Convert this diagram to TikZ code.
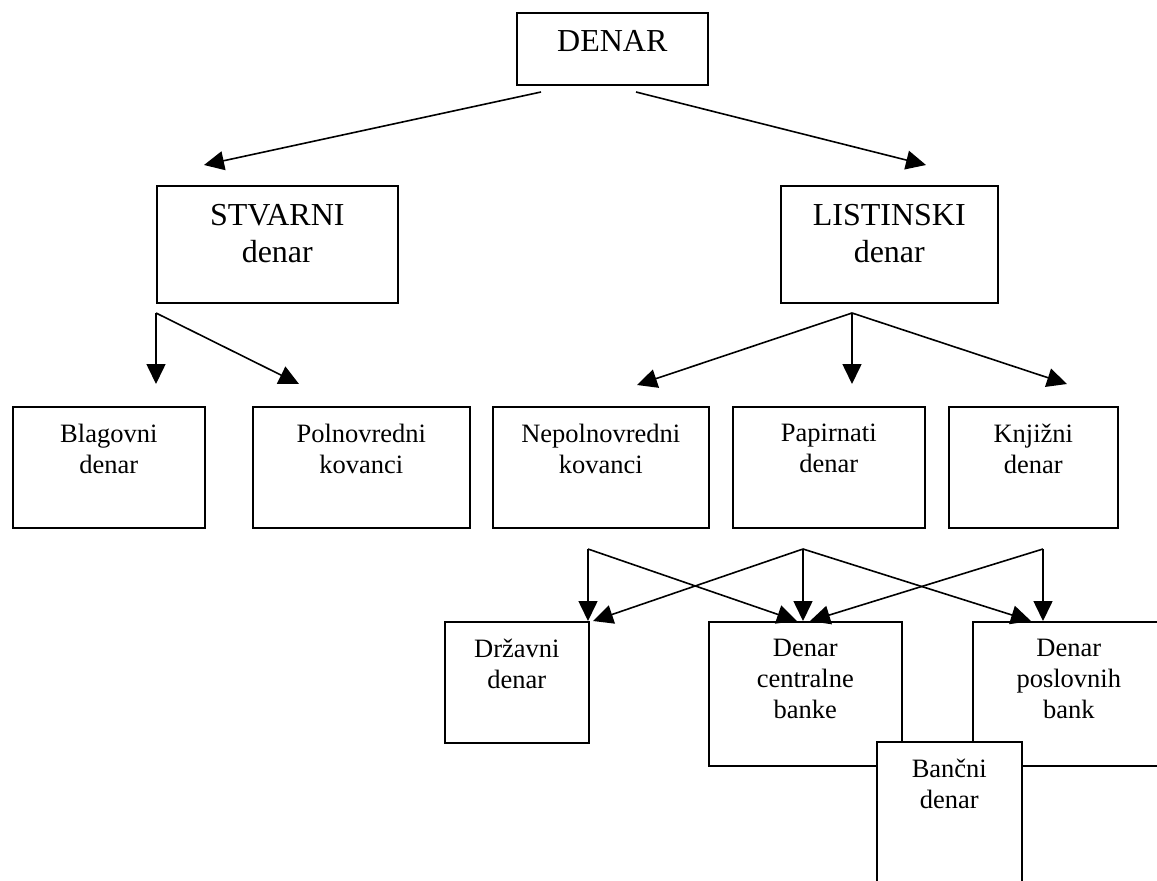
\documentclass[tikz,border=0pt]{standalone}
\usepackage{fontspec}
\setmainfont{Liberation Serif}
\usetikzlibrary{arrows.meta,calc}
\begin{document}
\begin{tikzpicture}[x=1pt,y=-1pt,
  box/.style={draw,line width=1.6pt,fill=white,inner sep=0pt,anchor=north west},
  bigtxt/.style={anchor=north,inner sep=0pt,align=center,font=\fontsize{32}{37}\selectfont},
  smalltxt/.style={anchor=north,inner sep=0pt,align=center,font=\fontsize{26.5}{31}\selectfont},
  conn/.style={line width=1.6pt,-{Triangle[length=20pt,width=19pt]}}]
\useasboundingbox (0,0) rectangle (1157,881);
\clip (0,0) rectangle (1157,881);
% boxes
\node[box,minimum width=191pt,minimum height=72pt] (den) at (516,12) {};
\node[box,minimum width=241pt,minimum height=117pt] (stv) at (156,185) {};
\node[box,minimum width=217pt,minimum height=117pt] (lis) at (780,185) {};
\node[box,minimum width=192pt,minimum height=121pt] (bla) at (12,406) {};
\node[box,minimum width=217pt,minimum height=121pt] (pol) at (252,406) {};
\node[box,minimum width=216pt,minimum height=121pt] (nep) at (492,406) {};
\node[box,minimum width=192pt,minimum height=121pt] (pap) at (732,406) {};
\node[box,minimum width=169pt,minimum height=121pt] (knj) at (948,406) {};
\node[box,minimum width=144pt,minimum height=121pt] (drz) at (444,621) {};
\node[box,minimum width=193pt,minimum height=144pt] (dcb) at (708,621) {};
\node[box,minimum width=192pt,minimum height=144pt] (dpb) at (972,621) {};
\node[box,minimum width=145pt,minimum height=150pt] (ban) at (876,741) {};
% texts
\node[bigtxt] (dent) at ($(den.north)+(0,18)$) {DENAR};
\node[bigtxt] (stvt) at ($(stv.north)+(0,19)$) {STVARNI\\denar};
\node[bigtxt] (list) at ($(lis.north)+(0,19)$) {LISTINSKI\\denar};
\node[smalltxt] (blat) at ($(bla.north)+(0,18)$) {Blagovni\\denar};
\node[smalltxt] (polt) at ($(pol.north)+(0,18)$) {Polnovredni\\kovanci};
\node[smalltxt] (nept) at ($(nep.north)+(0,18)$) {Nepolnovredni\\kovanci};
\node[smalltxt] (papt) at ($(pap.north)+(0,18)$) {Papirnati\\denar};
\node[smalltxt] (knjt) at ($(knj.north)+(0,18)$) {Knjižni\\denar};
\node[smalltxt] (drzt) at ($(drz.north)+(0,18)$) {Državni\\denar};
\node[smalltxt] (dcbt) at ($(dcb.north)+(0,18)$) {Denar\\centralne\\banke};
\node[smalltxt] (dpbt) at ($(dpb.north)+(0,18)$) {Denar\\poslovnih\\bank};
\node[smalltxt] (bant) at ($(ban.north)+(0,18)$) {Bančni\\denar};
% connector points
\coordinate (a0) at (541,92);
\coordinate (a1) at (636,92);
\coordinate (ta) at (204,165);
\coordinate (tb) at (926,165);
\coordinate (s0) at (156,313);
\coordinate (sa) at (156,384);
\coordinate (sb) at (299,384);
\coordinate (l0) at (852,313);
\coordinate (la) at (637,385);
\coordinate (lb) at (852,384);
\coordinate (lc) at (1067,384);
\coordinate (p1) at (588,549);
\coordinate (p2) at (803,549);
\coordinate (p3) at (1043,549);
\coordinate (q1) at (588,621);
\coordinate (q1b) at (593,621);
\coordinate (q2a) at (797,621);
\coordinate (q2) at (803,621);
\coordinate (q2b) at (810,621);
\coordinate (q3a) at (1031,621);
\coordinate (q3) at (1043,621);
% connectors
\draw[conn] (a0) -- (ta);
\draw[conn] (a1) -- (tb);
\draw[conn] (s0) -- (sa);
\draw[conn] (s0) -- (sb);
\draw[conn] (l0) -- (la);
\draw[conn] (l0) -- (lb);
\draw[conn] (l0) -- (lc);
\draw[conn] (p1) -- (q1);
\draw[conn] (p1) -- (q2a);
\draw[conn] (p2) -- (q1b);
\draw[conn] (p2) -- (q2);
\draw[conn] (p2) -- (q3a);
\draw[conn] (p3) -- (q2b);
\draw[conn] (p3) -- (q3);
\end{tikzpicture}
\end{document}
